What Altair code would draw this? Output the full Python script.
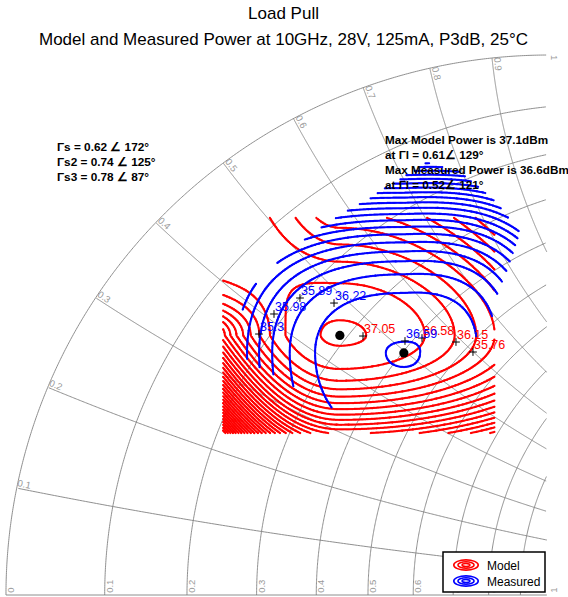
import numpy as np
import pandas as pd
import altair as alt

alt.data_transformers.disable_max_rows()

# ---------------- values ----------------
TITLE = "Load Pull"
SUBTITLE = "Model and Measured Power at 10GHz, 28V, 125mA, P3dB, 25°C"
SOURCE_TEXT = ["Γs = 0.62 ∠ 172°", "Γs2 = 0.74 ∠ 125°", "Γs3 = 0.78 ∠ 87°"]
MAX_TEXT = ["Max Model Power is 37.1dBm", "at Γl = 0.61∠ 129°",
            "Max Measured Power is 36.6dBm", "at Γl = 0.52∠ 121°"]

# Smith chart grid
R_VALUES = [0, 0.1, 0.2, 0.3, 0.4, 0.5, 0.6, 0.7, 0.8, 0.9, 1.0]
X_VALUES = [0.1, 0.2, 0.3, 0.4, 0.5, 0.6, 0.7, 0.8, 0.9, 1.0]

# maxima (|Gamma|, angle in degrees) and peak powers (dBm)
MODEL_MAX = (0.616, 128.7)
MEAS_MAX = (0.522, 120.8)
MODEL_PMAX = 37.10
MEAS_PMAX = 36.60

# contour levels (dBm)
MODEL_LEVELS = [37.05, 36.58, 36.15, 35.76, 35.37, 34.98, 34.59, 34.20, 33.81,
                33.42, 33.03, 32.64, 32.25, 31.86, 31.47, 31.08, 30.69, 30.30,
                29.91, 29.52, 29.13, 28.74, 28.35, 27.96, 27.57, 27.18, 26.79,
                26.40, 26.01, 25.62, 25.23, 24.84, 24.45]
MEAS_LEVELS = [36.59, 36.22, 35.89, 35.58, 35.30, 35.00, 34.70, 34.40, 34.10,
               33.80, 33.50, 33.20, 32.90, 32.60, 32.30, 32.00, 31.70, 31.40,
               31.10, 30.80, 30.50, 30.20, 29.90, 29.60]

# model sweep region (Gamma real, Gamma imag)
MODEL_GR = [-0.60, -0.10]
MODEL_GI = [0.30, 0.70]
# measured region outline (Gamma real, Gamma imag)
MEAS_HULL_GR = [-0.564, -0.483, -0.416, -0.330, -0.225, -0.164, -0.103, -0.053,
                -0.068, -0.096, -0.110, -0.400, -0.564]
MEAS_HULL_GI = [0.552, 0.635, 0.685, 0.737, 0.802, 0.785, 0.735, 0.672,
                0.624, 0.552, 0.490, 0.345, 0.439]

# contour labels: text, Gamma real, Gamma imag
MODEL_LABELS = ["37.05", "36.58", "36.15", "35.76"]
MODEL_LABEL_GR = [-0.3425, -0.2339, -0.1713, -0.1400]
MODEL_LABEL_GI = [0.4796, 0.4759, 0.4685, 0.4500]
MEAS_LABELS = ["36.59", "36.22", "35.89", "35.98", "35.3"]
MEAS_LABEL_GR = [-0.2652, -0.3959, -0.4586, -0.5064, -0.5341]
MEAS_LABEL_GI = [0.4704, 0.5407, 0.5500, 0.5204, 0.4833]

# surface shape coefficients (power drop in dB, per 0.184 / 0.185 of Gamma)
UNIT_R, UNIT_I = 0.184, 0.185


def model_drop(s, t):
    e = np.where(s >= 0, 0.72 * s**2, 1.1 * s**2 + 1.2 * np.abs(s)**3)
    n = np.where(t >= 0, 4.6 * t**2, 2.3 * t**2 - 0.75 * np.abs(t)**3)
    up_left = (s < 0) & (t < 0)
    e = np.where(up_left, e / (1 + 7.5 * s**2 * t**2), e)
    n = np.where(up_left, n / (1 + 3.0 * s**2), n)
    x = np.where((s < 0) & (t > 0), 3.9 * s**2 * t, 0.0)
    return e + n + x


def meas_drop(s, t):
    e = np.where(s >= 0, 0.28 * s**2 + 0.6 * s**3, 0.262 * s**2 + 0.247 * np.abs(s)**3)
    n = np.where(t < 0, 0.756 * t**2 + 0.5 * np.abs(t)**3, 0.5 * t**2)
    x = np.where((s > 0) & (t < 0), 0.15 * s * t, 0.0)
    return e + n + x


def polar(mag, ang):
    a = np.deg2rad(ang)
    return mag * np.cos(a), mag * np.sin(a)


def crossings(P, gx, gy, level):
    D = P - level
    xs, ys = [], []
    a, b = D[:, :-1], D[:, 1:]
    m = ((a < 0) & (b >= 0)) | ((a >= 0) & (b < 0))
    iy, ix = np.nonzero(m)
    f = a[iy, ix] / (a[iy, ix] - b[iy, ix])
    xs.append(gx[ix] + f * (gx[ix + 1] - gx[ix]))
    ys.append(gy[iy])
    a, b = D[:-1, :], D[1:, :]
    m = ((a < 0) & (b >= 0)) | ((a >= 0) & (b < 0))
    iy, ix = np.nonzero(m)
    f = a[iy, ix] / (a[iy, ix] - b[iy, ix])
    xs.append(gx[ix])
    ys.append(gy[iy] + f * (gy[iy + 1] - gy[iy]))
    return np.concatenate(xs), np.concatenate(ys)


def in_poly(xx, yy, px, py):
    inside = np.zeros(xx.shape, bool)
    n = len(px)
    for i in range(n):
        x1, y1, x2, y2 = px[i], py[i], px[(i + 1) % n], py[(i + 1) % n]
        cond = (y1 > yy) != (y2 > yy)
        xint = (x2 - x1) * (yy - y1) / (y2 - y1 + 1e-12) + x1
        inside ^= cond & (xx < xint)
    return inside


STEP = 0.0022

# ---- model contours ----
mgr0, mgi0 = polar(*MODEL_MAX)
gx = np.arange(MODEL_GR[0], MODEL_GR[1] + 1e-9, STEP)
gy = np.arange(MODEL_GI[0], MODEL_GI[1] + 1e-9, STEP)
XX, YY = np.meshgrid(gx, gy)
PM = MODEL_PMAX - model_drop((XX - mgr0) / UNIT_R, (mgi0 - YY) / UNIT_I)
rows = []
for lv in MODEL_LEVELS:
    x, y = crossings(PM, gx, gy, lv)
    rows.append(pd.DataFrame({"gr": x, "gi": y}))
model_pts = pd.concat(rows).round(5)

# ---- measured contours ----
egr0, egi0 = polar(*MEAS_MAX)
hx0, hx1 = min(MEAS_HULL_GR), max(MEAS_HULL_GR)
hy0, hy1 = min(MEAS_HULL_GI), max(MEAS_HULL_GI)
bx = np.arange(hx0, hx1 + 1e-9, STEP)
by = np.arange(hy0, hy1 + 1e-9, STEP)
BX, BY = np.meshgrid(bx, by)
PB = MEAS_PMAX - meas_drop((BX - egr0) / UNIT_R, (egi0 - BY) / UNIT_I)
PB[~in_poly(BX, BY, MEAS_HULL_GR, MEAS_HULL_GI)] = np.nan
rows = []
for lv in MEAS_LEVELS:
    x, y = crossings(PB, bx, by, lv)
    rows.append(pd.DataFrame({"gr": x, "gi": y}))
meas_pts = pd.concat(rows).round(5)

# ---- Smith chart grid ----
GR_MAX = -0.004
grid_rows = []
cid = 0
for r in R_VALUES:
    th = np.linspace(0, np.pi, 900)
    gr = r / (1 + r) + np.cos(th) / (1 + r)
    gi = np.sin(th) / (1 + r)
    k = gr <= GR_MAX
    grid_rows.append(pd.DataFrame({"gr": gr[k], "gi": gi[k], "cid": cid, "k": np.arange(k.sum())}))
    cid += 1
for xv in X_VALUES:
    R = 1 / xv
    ph = np.linspace(np.pi, 1.5 * np.pi, 3000)
    gr = 1 + R * np.cos(ph)
    gi = R + R * np.sin(ph)
    k = (gr**2 + gi**2 <= 1.0) & (gr <= GR_MAX)
    grid_rows.append(pd.DataFrame({"gr": gr[k], "gi": gi[k], "cid": cid, "k": np.arange(k.sum())}))
    cid += 1
grid_rows.append(pd.DataFrame({"gr": [-1.0, GR_MAX], "gi": [0.0, 0.0], "cid": cid, "k": [0, 1]}))
grid = pd.concat(grid_rows).round(5)

r_lab = pd.DataFrame({"gr": [(r - 1) / (r + 1) for r in R_VALUES],
                      "gi": [0.004] * len(R_VALUES),
                      "lab": [("%g" % r) for r in R_VALUES]})
x_theta = [np.pi - 2 * np.arctan(v) for v in X_VALUES]
x_lab = pd.DataFrame({"gr": [np.cos(a) for a in x_theta],
                      "gi": [np.sin(a) for a in x_theta],
                      "ang": [180 - np.rad2deg(a) for a in x_theta],
                      "lab": [("%g" % v) for v in X_VALUES]})

dots = pd.DataFrame({"gr": [mgr0, egr0], "gi": [mgi0, egi0]})
mlab = pd.DataFrame({"gr": MODEL_LABEL_GR, "gi": MODEL_LABEL_GI, "lab": MODEL_LABELS})
blab = pd.DataFrame({"gr": MEAS_LABEL_GR, "gi": MEAS_LABEL_GI, "lab": MEAS_LABELS})
plus = pd.concat([mlab, blab])

# ---------------- chart ----------------
FONT = "Liberation Sans"
XS = alt.Scale(domain=[-1.011, 0.0], nice=False, zero=False)
YS = alt.Scale(domain=[-0.0037, 1.0093], nice=False, zero=False)
X = alt.X("gr:Q", scale=XS, axis=None)
Y = alt.Y("gi:Q", scale=YS, axis=None)
GRAY = "#828282"

grid_layer = alt.Chart(grid).mark_line(color=GRAY, strokeWidth=0.9).encode(
    x=X, y=Y, detail="cid:N", order="k:Q")
r_text = alt.Chart(r_lab).mark_text(angle=270, align="left", baseline="top", fontSize=9.5,
                                    font=FONT, color="#999999").encode(x=X, y=Y, text="lab:N")
x_text = alt.Chart(x_lab).mark_text(align="left", baseline="bottom", fontSize=9.5,
                                    font=FONT, color="#999999").encode(
    x=X, y=Y, text="lab:N", angle=alt.Angle("ang:Q", scale=None))

red_layer = alt.Chart(model_pts).mark_circle(size=5, color="#ff0000", opacity=1).encode(x=X, y=Y)
blue_layer = alt.Chart(meas_pts).mark_circle(size=5, color="#0000ff", opacity=1).encode(x=X, y=Y)
dot_layer = alt.Chart(dots).mark_circle(size=85, color="black", opacity=1).encode(x=X, y=Y)

PLUS = "M -1 0 L 1 0 M 0 -1 L 0 1"
plus_layer = alt.Chart(plus).mark_point(shape=PLUS, size=60, filled=False, color="black",
                                        strokeWidth=1, opacity=1).encode(x=X, y=Y)
mlab_layer = alt.Chart(mlab).mark_text(align="left", baseline="bottom", dx=1, fontSize=12.5,
                                       font=FONT, color="#ff0000").encode(x=X, y=Y, text="lab:N")
blab_layer = alt.Chart(blab).mark_text(align="left", baseline="bottom", dx=1, fontSize=12.5,
                                       font=FONT, color="#0000ff").encode(x=X, y=Y, text="lab:N")

one = pd.DataFrame({"k": [0]})
ann = []
for i, s in enumerate(SOURCE_TEXT):
    ann.append(alt.Chart(one).mark_text(align="left", baseline="alphabetic", fontSize=11.8,
                                        fontWeight="bold", font=FONT, color="black").encode(
        x=alt.value(57), y=alt.value(101 + 15 * i), text=alt.value(s)))
for i, s in enumerate(MAX_TEXT):
    ann.append(alt.Chart(one).mark_text(align="left", baseline="alphabetic", fontSize=11.7,
                                        fontWeight="bold", font=FONT, color="black").encode(
        x=alt.value(385), y=alt.value(94 + 15 * i), text=alt.value(s)))

ELL = ("M -1 0 A 1 0.42 0 1 0 1 0 A 1 0.42 0 1 0 -1 0 Z "
       "M -0.66 0 A 0.66 0.27 0 1 0 0.66 0 A 0.66 0.27 0 1 0 -0.66 0 Z "
       "M -0.32 0 A 0.32 0.12 0 1 0 0.32 0 A 0.32 0.12 0 1 0 -0.32 0 Z")
legend = [
    alt.Chart(one).mark_rect(fill="white", stroke="black", strokeWidth=1.5).encode(
        x=alt.value(443), x2=alt.value(545), y=alt.value(502), y2=alt.value(542)),
    alt.Chart(one).mark_point(shape=ELL, size=600, filled=False, color="#ff0000",
                              strokeWidth=1.6, opacity=1).encode(x=alt.value(466), y=alt.value(515)),
    alt.Chart(one).mark_point(shape=ELL, size=600, filled=False, color="#0000ff",
                              strokeWidth=1.6, opacity=1).encode(x=alt.value(466), y=alt.value(531)),
    alt.Chart(one).mark_text(align="left", baseline="middle", fontSize=12, font=FONT,
                             color="black").encode(x=alt.value(487), y=alt.value(516), text=alt.value("Model")),
    alt.Chart(one).mark_text(align="left", baseline="middle", fontSize=12, font=FONT,
                             color="black").encode(x=alt.value(487), y=alt.value(532), text=alt.value("Measured")),
]

chart = alt.layer(
    grid_layer, r_text, x_text, red_layer, blue_layer, dot_layer, plus_layer,
    mlab_layer, blab_layer, *ann, *legend
).properties(
    width=549, height=547,
    background="white",
    autosize=alt.AutoSizeParams(type="none"),
    padding={"left": 0, "top": 50, "right": 19, "bottom": 0},
    title=alt.TitleParams(text=TITLE, subtitle=SUBTITLE, anchor="middle", dx=9,
                          fontSize=17, subtitleFontSize=17, font=FONT, subtitleFont=FONT,
                          fontWeight="normal", color="black", subtitleColor="black",
                          offset=1, subtitlePadding=9),
).configure_view(stroke=None)

chart.save("out.html", embed_options={"renderer": "svg", "actions": False})
